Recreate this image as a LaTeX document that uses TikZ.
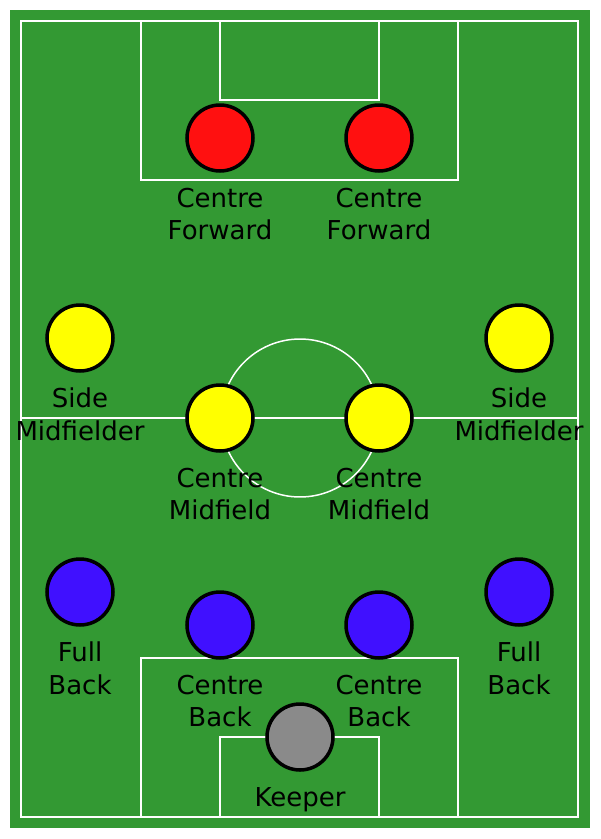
\documentclass[tikz,border=0pt]{standalone}
\usepackage{fontspec}
\setmainfont{DejaVu Sans}
\definecolor{pitch}{RGB}{51,153,51}
\definecolor{fwdred}{RGB}{255,16,16}
\definecolor{midyellow}{RGB}{255,255,0}
\definecolor{backblue}{RGB}{64,16,255}
\definecolor{keepgrey}{RGB}{138,138,138}
\tikzset{
  player/.style={circle,draw=black,line width=2pt,fill=#1,minimum size=1.32cm,inner sep=0pt},
  tag/.style={font=\fontsize{14.8}{18.3}\selectfont,align=center,inner sep=0pt,yshift=-0.3cm},
  chalk/.style={draw=white,line width=0.85pt}
}
\begin{document}
\begin{tikzpicture}[x=0.02cm,y=-0.02cm]
    \useasboundingbox (0,0) rectangle (600,839);
    % Pitch
    \fill[pitch] (10,10) rectangle (590,828);
    \draw[chalk] (21,21) rectangle (578,817);
    \draw[chalk] (21,418) -- (578,418);
    \draw[chalk] (300,418) circle[radius=1.58cm];
    \draw[chalk] (141,21) rectangle (458,180);
    \draw[chalk] (220,21) rectangle (379,100);
    \draw[chalk] (141,817) rectangle (458,658);
    \draw[chalk] (220,817) rectangle (379,737);
    % Forwards
    \node[player=fwdred,label={[tag,name=fwdl-tag]below:Centre\\Forward}] (fwdl) at (220,138) {};
    \node[player=fwdred,label={[tag,name=fwdr-tag]below:Centre\\Forward}] (fwdr) at (379,138) {};
    % Midfield
    \node[player=midyellow,label={[tag,name=sidel-tag]below:Side\\Midfielder}] (sidel) at (80,338) {};
    \node[player=midyellow,label={[tag,name=sider-tag]below:Side\\Midfielder}] (sider) at (519,338) {};
    \node[player=midyellow,label={[tag,name=midl-tag]below:Centre\\Midfield}] (midl) at (220,418) {};
    \node[player=midyellow,label={[tag,name=midr-tag]below:Centre\\Midfield}] (midr) at (379,418) {};
    % Defence
    \node[player=backblue,label={[tag,name=fulll-tag]below:Full\\Back}] (fulll) at (80,592) {};
    \node[player=backblue,label={[tag,name=fullr-tag]below:Full\\Back}] (fullr) at (519,592) {};
    \node[player=backblue,label={[tag,name=backl-tag]below:Centre\\Back}] (backl) at (220,625) {};
    \node[player=backblue,label={[tag,name=backr-tag]below:Centre\\Back}] (backr) at (379,625) {};
    % Keeper
    \node[player=keepgrey,label={[tag,name=keeper-tag]below:Keeper}] (keeper) at (300,737) {};
  \end{tikzpicture}
\end{document}
